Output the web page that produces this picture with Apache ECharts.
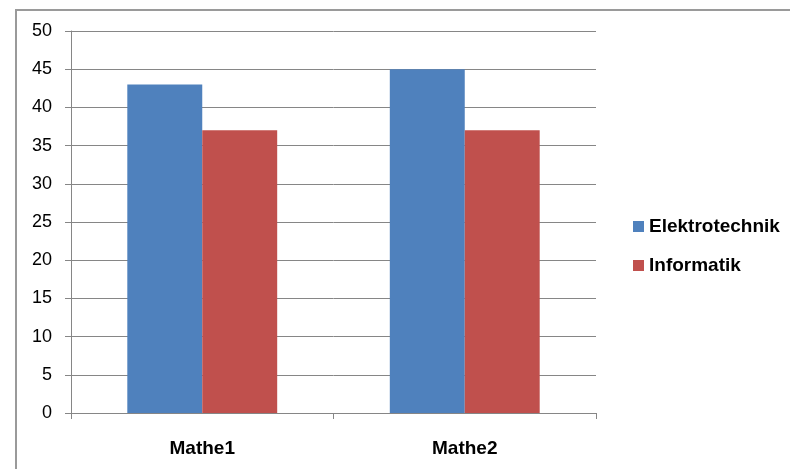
<!DOCTYPE html>
<html>
<head>
<meta charset="utf-8">
<script src="https://cdn.jsdelivr.net/npm/echarts@6/dist/echarts.min.js"></script>
<style>
  html, body { margin: 0; padding: 0; background: #fff; }
  #chart { width: 790px; height: 469px; }
</style>
</head>
<body>
<div id="chart"></div>
<script>
// Subjects on the category axis
const categories = ['Mathe1', 'Mathe2'];
// Values per study programme
const elektrotechnik = [43, 45];
const informatik = [37, 37];
// Value axis range
const yMin = 0;
const yMax = 50;
const yStep = 5;

const chart = echarts.init(document.getElementById('chart'), null, { renderer: 'canvas' });

const font = '"Liberation Sans", Arial, sans-serif';
const gridColor = '#868686';

chart.setOption({
  animation: false,
  backgroundColor: '#ffffff',
  color: ['#4F81BD', '#C0504D'],
  graphic: [{
    type: 'rect',
    shape: { x: 16, y: 10, width: 800, height: 500 },
    style: { fill: 'none', stroke: '#9a9a9a', lineWidth: 2 },
    silent: true
  }],
  grid: { left: 71, right: 194, top: 31, bottom: 56 },
  legend: {
    orient: 'vertical',
    left: 628,
    top: 212,
    itemWidth: 11,
    itemHeight: 11,
    itemGap: 20,
    icon: 'rect',
    textStyle: { fontFamily: font, fontSize: 19, fontWeight: 'bold', color: '#000' },
    data: ['Elektrotechnik', 'Informatik']
  },
  xAxis: {
    type: 'category',
    data: categories,
    axisLine: { lineStyle: { color: gridColor, width: 1 } },
    axisTick: { show: true, length: 6, lineStyle: { color: gridColor } },
    axisLabel: { fontFamily: font, fontSize: 19, fontWeight: 'bold', color: '#000', margin: 26 }
  },
  yAxis: {
    type: 'value',
    min: yMin,
    max: yMax,
    interval: yStep,
    axisLine: { show: true, lineStyle: { color: gridColor, width: 1 } },
    axisTick: { show: true, length: 6, lineStyle: { color: gridColor } },
    splitLine: { lineStyle: { color: gridColor, width: 1 } },
    axisLabel: { fontFamily: font, fontSize: 18, color: '#000', margin: 19 }
  },
  series: [
    {
      name: 'Elektrotechnik',
      type: 'bar',
      data: elektrotechnik,
      barGap: '0%',
      barCategoryGap: '42.9%'
    },
    {
      name: 'Informatik',
      type: 'bar',
      data: informatik
    }
  ]
});
</script>
</body>
</html>
